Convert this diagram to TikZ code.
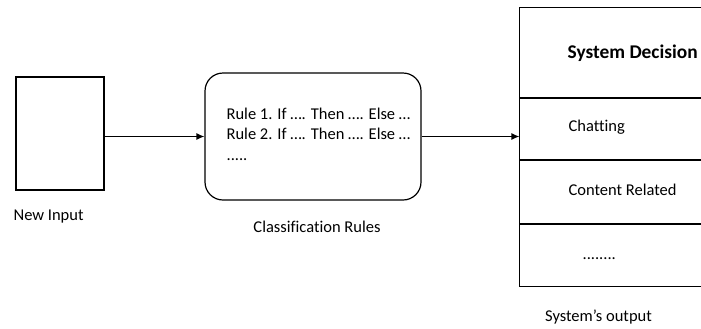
\documentclass[tikz,border=0pt]{standalone}
\usepackage{fontspec}
\setmainfont{Carlito}[Ligatures={NoCommon}]
\usetikzlibrary{arrows.meta}
\begin{document}
\begin{tikzpicture}[x=1bp,y=-1bp,
  line width=1.2bp,
  txt/.style={inner sep=0pt, anchor=base west, font=\fontsize{16.5bp}{20bp}\selectfont},
  ctxt/.style={txt, anchor=base},
  htxt/.style={inner sep=0pt, anchor=base west, font=\fontsize{19.4bp}{23bp}\selectfont\bfseries},
  arr/.style={-{Latex[length=8bp,width=7bp]}},
  boxsq/.style={draw, inner sep=0pt},
]
\useasboundingbox (0,0) rectangle (701,328);
% input box
\node[boxsq, minimum width=88bp, minimum height=113bp] (in) at (60,133.5) {};
\node[txt] (inlbl) at (13,220) {New Input};
% rules box
\node[boxsq, rounded corners=18bp, minimum width=216bp, minimum height=127bp] (rules) at (313,136.5) {};
\node[txt] (r1) at (226,119) {Rule 1. If …. Then …. Else …};
\node[txt] (r2) at (226,139) {Rule 2. If …. Then …. Else …};
\node[txt] (r3) at (226,160) {.....};
\node[ctxt] (ruleslbl) at (317,232) {Classification Rules};
% output box
\node[inner sep=0pt, minimum width=181bp, minimum height=278bp] (out) at (610.5,147) {};
\draw (out.north east) -- (out.north west) -- (out.south west) -- (out.south east);
\coordinate (d1) at (520,98);
\coordinate (d2) at (520,160);
\coordinate (d3) at (520,224);
\draw (d1) -- (d1 -| out.east);
\draw (d2) -- (d2 -| out.east);
\draw (d3) -- (d3 -| out.east);
\node[htxt] (hdr) at (567,58) {System Decision};
\node[txt] (c1) at (568,131) {Chatting};
\node[txt] (c2) at (568,195) {Content Related};
\node[txt] (c3) at (582,259) {........};
\node[ctxt] (outlbl) at (598.5,321) {System’s output};
% arrows
\draw[arr] (in.east |- rules.west) -- (rules.west);
\draw[arr] (rules.east) -- (rules.east -| out.west);
\end{tikzpicture}
\end{document}
